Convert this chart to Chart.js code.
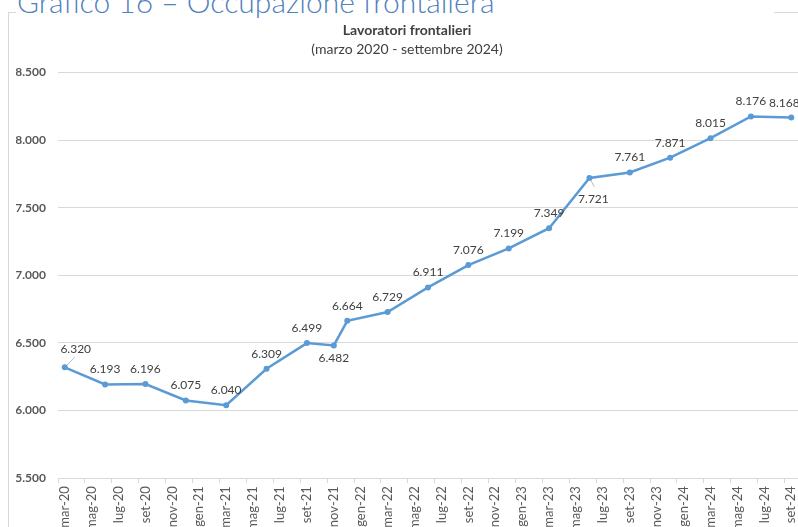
<!DOCTYPE html>
<html lang="it">
<head>
<meta charset="utf-8">
<title>Lavoratori frontalieri</title>
<script src="https://cdn.jsdelivr.net/npm/chart.js@4"></script>
<style>
  html, body { margin: 0; padding: 0; background: #fff; overflow: hidden; }
  body { width: 798px; height: 527px; position: relative; font-family: Lato, sans-serif; }
  #frame {
    position: absolute; left: 8px; top: 12px; width: 810px; height: 530px;
    border-left: 1px solid #D9D9D9; border-top: 1px solid #D9D9D9;
  }
  #heading {
    position: absolute; left: 16px; top: -14px; width: 757px; padding-left: 1px;
    background: #fff; color: #4F81BD; font-size: 30px; font-weight: 300;
    line-height: 30px; white-space: nowrap;
  }
  #chart { position: absolute; left: 9px; top: 13px; }
</style>
</head>
<body>
<div id="frame"></div>
<div id="heading">Grafico 16 – Occupazione frontaliera</div>
<canvas id="chart" width="801" height="520"></canvas>
<script>
// monthly category axis, march 2020 to september 2024
const months = [
  "mar-20", "apr-20", "mag-20", "giu-20", "lug-20", "ago-20", "set-20", "ott-20", "nov-20", "dic-20",
  "gen-21", "feb-21", "mar-21", "apr-21", "mag-21", "giu-21", "lug-21", "ago-21", "set-21", "ott-21", "nov-21", "dic-21",
  "gen-22", "feb-22", "mar-22", "apr-22", "mag-22", "giu-22", "lug-22", "ago-22", "set-22", "ott-22", "nov-22", "dic-22",
  "gen-23", "feb-23", "mar-23", "apr-23", "mag-23", "giu-23", "lug-23", "ago-23", "set-23", "ott-23", "nov-23", "dic-23",
  "gen-24", "feb-24", "mar-24", "apr-24", "mag-24", "giu-24", "lug-24", "ago-24", "set-24"
];

// months that have an observation
const dataMonths = [
  "mar-20", "giu-20", "set-20", "dic-20", "mar-21", "giu-21", "set-21", "nov-21", "dic-21", "mar-22",
  "giu-22", "set-22", "dic-22", "mar-23", "giu-23", "set-23", "dic-23", "mar-24", "giu-24", "set-24"
];

// Lavoratori frontalieri
const workers = [
  6320, 6193, 6196, 6075, 6040, 6309, 6499, 6482, 6664, 6729,
  6911, 7076, 7199, 7349, 7721, 7761, 7871, 8015, 8176, 8168
];

const yTicks = [5500, 6000, 6500, 7000, 7500, 8000, 8500];

// italian style thousands separator
function fmt(n) {
  return String(n).replace(/\B(?=(\d{3})+(?!\d))/g, ".");
}

// labels sit above the point, a few were moved by hand in the original
const labelShift = {
  0: { dx: 11, dy: -18, leader: true },
  7: { dx: 0, dy: 13 },
  14: { dx: 4, dy: 21, leader: true },
  19: { dx: -7, dy: -14 }
};

const valueLabels = {
  id: "valueLabels",
  afterDatasetsDraw(chart) {
    const ctx = chart.ctx;
    const meta = chart.getDatasetMeta(0);
    ctx.save();
    ctx.font = "12px Lato";
    ctx.fillStyle = "#404040";
    ctx.textAlign = "center";
    ctx.textBaseline = "middle";
    meta.data.forEach((pt, i) => {
      const s = labelShift[i] || { dx: 0, dy: -15 };
      const lx = pt.x + s.dx;
      const ly = pt.y + s.dy;
      if (s.leader) {
        ctx.strokeStyle = "#A6A6A6";
        ctx.lineWidth = 0.75;
        ctx.beginPath();
        if (s.dy < 0) {
          ctx.moveTo(pt.x + 2, pt.y - 2);
          ctx.lineTo(lx - 1, ly + 8);
        } else {
          ctx.moveTo(pt.x + 1, pt.y + 2);
          ctx.lineTo(lx + 1, ly - 12);
        }
        ctx.stroke();
      }
      ctx.fillText(fmt(workers[i]), lx, ly);
    });
    ctx.restore();
  }
};

Chart.defaults.font.family = "Lato, sans-serif";

new Chart(document.getElementById("chart"), {
  type: "line",
  data: {
    labels: months,
    datasets: [
      {
        label: "Lavoratori frontalieri",
        data: dataMonths.map((m, i) => ({ x: m, y: workers[i] })),
        borderColor: "#5B9BD5",
        backgroundColor: "#5B9BD5",
        borderWidth: 2.5,
        pointRadius: 3,
        pointBorderWidth: 0,
        pointBackgroundColor: "#5B9BD5",
        tension: 0,
      },
    ],
  },
  options: {
    responsive: false,
    animation: false,
    devicePixelRatio: 1,
    layout: { padding: { left: 7, right: 12, top: 0, bottom: 0 } },
    plugins: {
      legend: { display: false },
      tooltip: { enabled: false },
      title: {
        display: true,
        text: "Lavoratori frontalieri",
        color: "#404040",
        font: { size: 14, weight: "bold" },
        padding: { top: 9, bottom: 0 },
      },
      subtitle: {
        display: true,
        text: "(marzo 2020 - settembre 2024)",
        color: "#404040",
        font: { size: 14 },
        padding: { top: 2, bottom: 15 },
      },
    },
    scales: {
      x: {
        type: "category",
        offset: true,
        grid: {
          offset: true,
          drawOnChartArea: false,
          drawTicks: true,
          tickLength: 5,
          color: (c) => (c.index % 2 === 0 ? "#D9D9D9" : "rgba(0,0,0,0)"),
        },
        border: { color: "#D9D9D9" },
        ticks: {
          autoSkip: false,
          minRotation: 90,
          maxRotation: 90,
          padding: 3,
          color: "#595959",
          font: { size: 13 },
          callback: (v, i) => (i % 2 === 0 ? months[i] : ""),
        },
      },
      y: {
        min: yTicks[0],
        max: yTicks[yTicks.length - 1],
        afterBuildTicks: (scale) => {
          scale.ticks = yTicks.map((v) => ({ value: v }));
        },
        afterFit: (scale) => {
          scale.width = 42;
        },
        grid: { color: "#D9D9D9", drawTicks: false },
        border: { display: false },
        ticks: {
          padding: 12,
          color: "#595959",
          font: { size: 12, weight: "bold" },
          callback: (v) => fmt(v),
        },
      },
    },
  },
  plugins: [valueLabels],
});
</script>
</body>
</html>
